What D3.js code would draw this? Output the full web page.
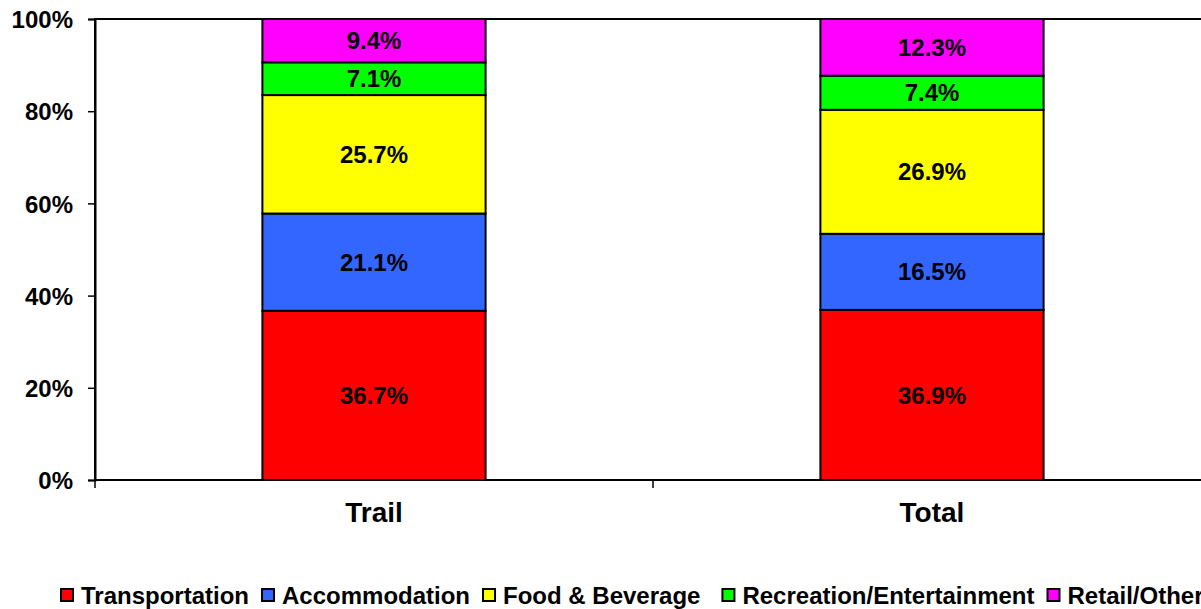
<!DOCTYPE html>
<html>
<head>
<meta charset="utf-8">
<script src="https://cdn.jsdelivr.net/npm/d3@7"></script>
<style>
  body { margin: 0; background: #fff; }
  text { font-family: "Liberation Sans", Arial, sans-serif; font-weight: bold; fill: #000; }
</style>
</head>
<body>
<div id="chart"></div>
<script>
var categories = ["Trail", "Total"];
var seriesNames = ["Transportation", "Accommodation", "Food & Beverage", "Recreation/Entertainment", "Retail/Other"];
var seriesColors = ["#ff0000", "#3366ff", "#ffff00", "#00ff00", "#ff00ff"];
var trailValues = [36.7, 21.1, 25.7, 7.1, 9.4];
var totalValues = [36.9, 16.5, 26.9, 7.4, 12.3];
var yTicks = [0, 20, 40, 60, 80, 100];

var margin = { top: 19, left: 95 },
    W = 1201, H = 609,
    plotW = 1116, plotH = 461;

// table for d3.stack
var rows = categories.map(function(c, i) {
    var vals = i == 0 ? trailValues : totalValues;
    var r = { cat: c };
    seriesNames.forEach(function(s, j) { r[s] = vals[j]; });
    return r;
});

var svg = d3.select("#chart").append("svg")
    .attr("width", W)
    .attr("height", H);

var g = svg.append("g").attr("transform", "translate(" + margin.left + "," + margin.top + ")");

var x = d3.scaleBand().domain(categories).range([0, plotW]).paddingInner(0.6).paddingOuter(0.3);
var slot = d3.scaleBand().domain(categories).range([0, plotW]);
var y = d3.scaleLinear().domain([0, 100]).range([plotH, 0]);

// plot frame
g.append("rect")
    .attr("x", 0).attr("y", 0)
    .attr("width", plotW).attr("height", plotH)
    .attr("fill", "none")
    .attr("stroke", "#000")
    .attr("stroke-width", 2);

var stack = d3.stack().keys(seriesNames)(rows);

var layers = g.selectAll("g.layer")
    .data(stack)
    .enter().append("g")
    .attr("class", "layer")
    .attr("fill", function(d, i) { return seriesColors[i]; });

layers.selectAll("rect")
    .data(function(d) { return d; })
    .enter().append("rect")
    .attr("x", function(d) { return x(d.data.cat); })
    .attr("y", function(d) { return y(d[1]); })
    .attr("width", x.bandwidth())
    .attr("height", function(d) { return y(d[0]) - y(d[1]); })
    .attr("stroke", "#000")
    .attr("stroke-width", 2);

layers.selectAll("text")
    .data(function(d) { return d; })
    .enter().append("text")
    .attr("x", function(d) { return x(d.data.cat) + x.bandwidth() / 2; })
    .attr("y", function(d) { return (y(d[0]) + y(d[1])) / 2; })
    .attr("dy", "0.36em")
    .attr("text-anchor", "middle")
    .style("font-size", "24px")
    .text(function(d) { return (d[1] - d[0]).toFixed(1) + "%"; });

// y axis
var yAxis = g.append("g")
    .call(d3.axisLeft(y).tickValues(yTicks).tickSize(7).tickPadding(15).tickFormat(function(d) { return d + "%"; }));
yAxis.select(".domain").attr("stroke-width", 2);
yAxis.selectAll(".tick line").attr("stroke-width", 1.5);
yAxis.selectAll("text").style("font-size", "24px").attr("dy", "0.36em");

// x axis: ticks on category boundaries
var xAxis = g.append("g").attr("transform", "translate(0," + plotH + ")");
xAxis.append("line")
    .attr("x1", 0).attr("x2", plotW)
    .attr("stroke", "#000").attr("stroke-width", 2);
var bounds = categories.map(function(c) { return slot(c); }).concat([plotW]);
xAxis.selectAll("line.tk")
    .data(bounds)
    .enter().append("line")
    .attr("class", "tk")
    .attr("x1", function(d) { return d; })
    .attr("x2", function(d) { return d; })
    .attr("y1", 0).attr("y2", 8)
    .attr("stroke", "#000").attr("stroke-width", 1.5);
xAxis.selectAll("text")
    .data(categories)
    .enter().append("text")
    .attr("x", function(d) { return x(d) + x.bandwidth() / 2; })
    .attr("y", 32)
    .attr("dy", "0.36em")
    .attr("text-anchor", "middle")
    .style("font-size", "28px")
    .text(function(d) { return d; });

// legend
var legend = svg.append("g").attr("transform", "translate(61,595)");
var lx = 0;
seriesNames.forEach(function(s, i) {
    var item = legend.append("g").attr("transform", "translate(" + lx + ",0)");
    item.append("rect")
        .attr("x", 0).attr("y", -6)
        .attr("width", 12).attr("height", 12)
        .attr("fill", seriesColors[i])
        .attr("stroke", "#000").attr("stroke-width", 2);
    var t = item.append("text")
        .attr("x", 20)
        .attr("y", 0)
        .attr("dy", "0.36em")
        .style("font-size", "24px")
        .text(s);
    lx += 20 + t.node().getComputedTextLength() + (i == 2 ? 22 : 13);
});
</script>
</body>
</html>
